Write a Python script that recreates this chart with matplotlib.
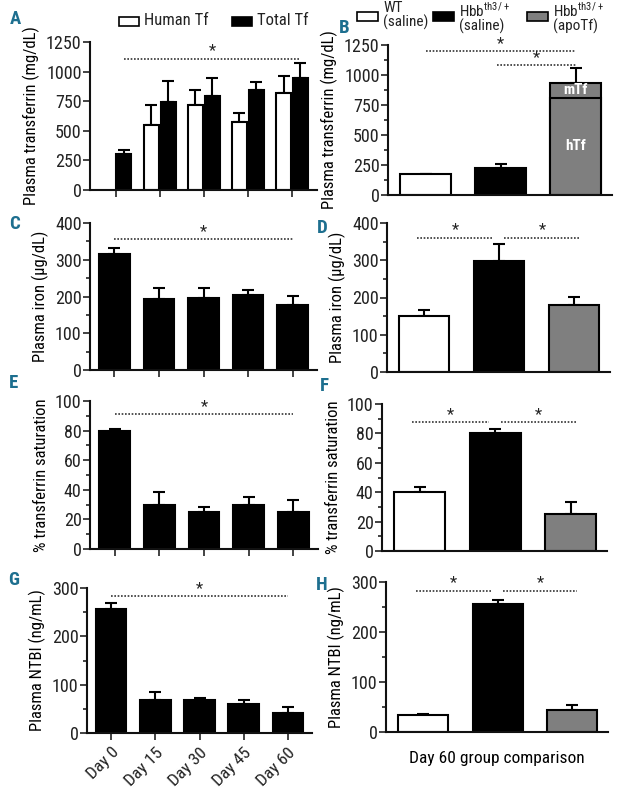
import matplotlib.pyplot as plt
import numpy as np
from matplotlib import font_manager as fm
from matplotlib.patches import Rectangle
from matplotlib.ticker import AutoMinorLocator, MultipleLocator

# narrow font, like the journal figure
have = set(f.name for f in fm.fontManager.ttflist)
narrow = [n for n in ['Roboto Condensed', 'Archivo Narrow', 'PT Sans Narrow', 'Liberation Sans Narrow',
                      'Pragati Narrow', 'Open Sans Condensed', 'Barlow Condensed'] if n in have]
FONT = narrow[0] if narrow else 'DejaVu Sans'
plt.rcParams['font.family'] = [FONT, 'DejaVu Sans']
plt.rcParams['mathtext.fontset'] = 'custom'
plt.rcParams['mathtext.rm'] = FONT
plt.rcParams['text.color'] = '#222222'
plt.rcParams['xtick.color'] = '#222222'
plt.rcParams['ytick.color'] = '#222222'

# data
days = ['Day 0', 'Day 15', 'Day 30', 'Day 45', 'Day 60']
group_names = ['WT\n(saline)', 'Hbb$^{\\mathrm{th3/+}}$\n(saline)', 'Hbb$^{\\mathrm{th3/+}}$\n(apoTf)']
group_colors = ['white', 'black', '#7f7f7f']

# A: transferrin over time
human_tf = [np.nan, 551, 719, 573, 822]
human_tf_err = [0, 168, 126, 81, 140]
total_tf = [308, 744, 797, 842, 942]
total_tf_err = [28, 176, 151, 72, 132]
# B: transferrin per group (apoTf split into hTf + mTf)
tf_group = [178, 228, 933]
tf_group_err = [0, 30, 128]
htf_apo = 811
# C / D: plasma iron
iron_time = [317, 192, 197, 203, 178]
iron_time_err = [15, 30, 27, 14, 23]
iron_group = [150, 299, 179]
iron_group_err = [16, 45, 22]
# E / F: transferrin saturation
sat_time = [79.6, 29.9, 25.2, 29.7, 25.2]
sat_time_err = [1.7, 8.3, 3.1, 5.1, 7.8]
sat_group = [40.1, 80.5, 25.2]
sat_group_err = [3.7, 2.5, 8.1]
# G / H: NTBI
ntbi_time = [257, 69, 69, 60, 42]
ntbi_time_err = [11, 16, 3, 9, 11]
ntbi_group = [34, 257, 45]
ntbi_group_err = [2, 8, 9]

LW = 1.5
TEAL = '#1d6f8f'

fig = plt.figure(figsize=(6.2, 7.9), dpi=100)


def px_axes(l, r, t, b):
    return fig.add_axes([l / 620, 1 - b / 790, (r - l) / 620, (b - t) / 790])


def style(ax, ymax, step, minor, label, xticks=True):
    for s in ['top', 'right']:
        ax.spines[s].set_visible(False)
    for s in ['left', 'bottom']:
        ax.spines[s].set_linewidth(LW)
        ax.spines[s].set_color('#111111')
    ax.set_ylim(0, ymax)
    ax.yaxis.set_major_locator(MultipleLocator(step))
    if minor:
        ax.yaxis.set_minor_locator(AutoMinorLocator(2))
    ax.tick_params(axis='y', which='major', length=5, width=1.2, labelsize=13, pad=1)
    ax.tick_params(axis='y', which='minor', length=3, width=1.2)
    ax.tick_params(axis='x', length=5 if xticks else 0, width=1.2, labelsize=11)
    ax.set_ylabel(label, fontsize=12, labelpad=4)


def bars(ax, x, vals, errs, colors, width):
    ax.bar(x, vals, width, color=colors, edgecolor='black', linewidth=LW, zorder=2)
    ax.errorbar(x, vals, yerr=[np.zeros(len(errs)), errs], fmt='none', ecolor='black',
                elinewidth=LW, capsize=4, capthick=LW, zorder=1.5)


def sig(ax, x0, x1, y):
    ax.plot([x0, x1], [y, y], ls=(0, (1, 1)), color='#333333', lw=1.2, clip_on=False)
    ax.text((x0 + x1) / 2, y, '*', ha='center', va='bottom', fontsize=12)


def time_panel(ax, vals, errs, ymax, step, label, y_sig, xlabels=False):
    x = np.arange(len(days))
    bars(ax, x, vals, errs, 'black', 0.69)
    ax.set_xlim(-0.55, 4.55)
    style(ax, ymax, step, True, label)
    ax.set_xticks(x)
    if xlabels:
        ax.set_xticklabels(days, rotation=45, ha='right', rotation_mode='anchor', fontsize=12.5)
    else:
        ax.set_xticklabels([])
    sig(ax, x[0], x[-1], y_sig)


def group_panel(ax, vals, errs, ymax, step, label, y_sig):
    x = np.arange(len(vals))
    bars(ax, x, vals, errs, group_colors, 0.67)
    ax.set_xlim(-0.5, 2.48)
    style(ax, ymax, step, True, label, xticks=False)
    ax.set_xticks([])
    sig(ax, x[0] - 0.1, x[1] - 0.08, y_sig)
    sig(ax, x[1] + 0.07, x[2] + 0.07, y_sig)


# A
axA = px_axes(90, 317, 42, 190)
xg = np.arange(len(days))
hm = ~np.isnan(human_tf)
bars(axA, xg[hm] - 0.19, np.array(human_tf)[hm], np.array(human_tf_err)[hm], 'white', 0.34)
bars(axA, xg + 0.19, total_tf, total_tf_err, 'black', 0.34)
axA.set_xlim(-0.58, 4.57)
style(axA, 1250, 250, False, 'Plasma transferrin (mg/dL)')
axA.set_xticks(xg)
axA.set_xticklabels([])
sig(axA, xg[0] + 0.19, xg[-1] + 0.19, 1110)

# B
axB = px_axes(388, 612, 45, 195)
xb = np.arange(3)
bars(axB, xb, tf_group, tf_group_err, group_colors, 0.68)
axB.bar(xb[2], htf_apo, 0.68, color=group_colors[2], edgecolor='black', linewidth=LW, zorder=2.1)
axB.text(xb[2], htf_apo / 2, 'hTf', color='white', fontweight='bold', ha='center', va='center', fontsize=11)
axB.text(xb[2], (htf_apo + tf_group[2]) / 2, 'mTf', color='white', fontweight='bold', ha='center', va='center', fontsize=11)
axB.set_xlim(-0.5, 2.48)
style(axB, 1250, 250, True, 'Plasma transferrin (mg/dL)', xticks=False)
axB.set_xticks([])
sig(axB, xb[0], xb[2], 1200)
sig(axB, xb[1] - 0.05, xb[2], 1085)

# C, D
time_panel(px_axes(90, 317, 223, 370), iron_time, iron_time_err, 400, 100, 'Plasma iron (\u03bcg/dL)', 357)
group_panel(px_axes(387, 610, 223, 372), iron_group, iron_group_err, 400, 100, 'Plasma iron (\u03bcg/dL)', 361)

# E, F
time_panel(px_axes(90, 318, 401, 549), sat_time, sat_time_err, 100, 20, '% transferrin saturation', 91)
group_panel(px_axes(382, 607, 404, 551), sat_group, sat_group_err, 100, 20, '% transferrin saturation', 87.8)

# G, H
time_panel(px_axes(87, 312, 588, 733), ntbi_time, ntbi_time_err, 300, 100, 'Plasma NTBI (ng/mL)', 283, xlabels=True)
axH = px_axes(386, 608, 582, 732)
group_panel(axH, ntbi_group, ntbi_group_err, 300, 100, 'Plasma NTBI (ng/mL)', 283)
axH.set_xlabel('Day 60 group comparison', fontsize=12.5, labelpad=14)

# legends
def legend_box(x, y, color, label, ytext, size=12, w=20, h=9):
    fig.patches.append(Rectangle((x / 620, 1 - (y + h / 2) / 790), w / 620, h / 790,
                                 facecolor=color, edgecolor='black', lw=1.2,
                                 transform=fig.transFigure, figure=fig))
    fig.text((x + w + 5) / 620, 1 - ytext / 790, label, ha='left', va='top', fontsize=size,
             linespacing=0.95)

legend_box(119, 21, 'white', 'Human Tf', 13)
legend_box(232, 21, 'black', 'Total Tf', 13)
for xpos, col, name in zip([357, 433, 527], group_colors, group_names):
    legend_box(xpos, 16, col, name, 1, size=11, w=21)

# panel letters
for letter, (lx, ly) in zip('ABCDEFGH', [(15, 19), (344, 28), (14, 224), (322, 228),
                                          (14, 383), (324, 386), (14, 580), (322, 585)]):
    fig.text(lx / 620, 1 - ly / 790, letter, color=TEAL, fontweight='bold', fontsize=13.5,
             ha='center', va='center')

fig.savefig('out.png', dpi=100)
